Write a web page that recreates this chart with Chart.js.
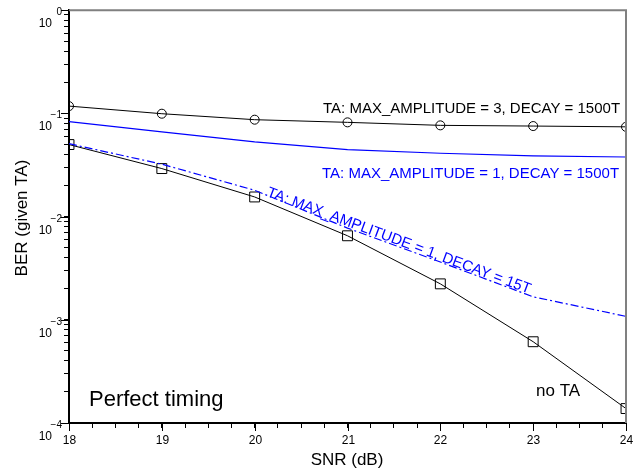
<!DOCTYPE html>
<html>
<head>
<meta charset="utf-8">
<script src="https://cdn.jsdelivr.net/npm/chart.js@4.4.0/dist/chart.umd.min.js"></script>
<style>
    body { margin: 0; background: #fff; }
    #wrap { width: 641px; height: 469px; }
</style>
</head>
<body>
<div id="wrap"><canvas id="berChart" width="641" height="469"></canvas></div>
<script>
Chart.defaults.font.family = 'Liberation Sans';

// SNR (dB) on x, BER on a log y axis
const snr = [18, 19, 20, 21, 22, 23, 24];
const berAmp3Decay1500 = [0.1177, 0.0993, 0.0869, 0.0819, 0.0766, 0.0754, 0.0741];
const berAmp1Decay1500 = [0.0832, 0.0663, 0.0530, 0.0446, 0.0411, 0.0388, 0.0378];
const berAmp1Decay15 = [0.0509, 0.0322, 0.0180, 0.00774, 0.00363, 0.00167, 0.00108];
const berNoTA = [0.0499, 0.0292, 0.0155, 0.00652, 0.00223, 0.000613, 0.000138];

const xTickLabels = ['18', '19', '20', '21', '22', '23', '24'];
const yDecades = [-4, -3, -2, -1, 0];
const yMinorSteps = [1, 2, 3, 4, 5, 6, 7, 8, 9];

const labelAmp3 = 'TA: MAX_AMPLITUDE = 3, DECAY = 1500T';
const labelAmp1Slow = 'TA: MAX_AMPLITUDE = 1, DECAY = 1500T';
const labelAmp1Fast = 'TA: MAX_AMPLITUDE = 1, DECAY = 15T';
const labelNoTA = 'no TA';
const labelPanel = 'Perfect timing';

function toPoints(values) {
    return snr.map((s, i) => ({ x: s, y: values[i] }));
}

const BLUE = '#0000ff';

const decorPlugin = {
    id: 'decor',
    afterDraw(chart) {
        const { ctx, chartArea: a, scales: { x, y } } = chart;
        ctx.save();

        // grey frame on top and right
        ctx.strokeStyle = '#808080';
        ctx.lineWidth = 2;
        ctx.beginPath();
        ctx.moveTo(a.left, a.top);
        ctx.lineTo(a.right, a.top);
        ctx.lineTo(a.right, a.bottom);
        ctx.stroke();

        // x major ticks + labels
        ctx.strokeStyle = '#000';
        ctx.fillStyle = '#000';
        ctx.lineWidth = 1;
        ctx.font = '12px "Liberation Sans"';
        ctx.textAlign = 'center';
        ctx.textBaseline = 'alphabetic';
        xTickLabels.forEach((t, i) => {
            const px = Math.round(x.getPixelForValue(snr[i])) + 0.5;
            ctx.beginPath();
            ctx.moveTo(px, a.bottom);
            ctx.lineTo(px, a.bottom + 8);
            ctx.stroke();
            ctx.fillText(t, px, 444);
        });

        // y decade ticks + 10^n labels
        yDecades.forEach(e => {
            const py = Math.round(y.getPixelForValue(Math.pow(10, e))) + 0.5;
            ctx.beginPath();
            ctx.moveTo(a.left - 8, py);
            ctx.lineTo(a.left, py);
            ctx.stroke();
            ctx.font = '12px "Liberation Sans"';
            ctx.textAlign = 'right';
            ctx.fillText('10', 52, py + 16.5);
            ctx.font = '10px "Liberation Sans"';
            ctx.fillText(e < 0 ? '\u2212' + (-e) : String(e), 62, py + 4);
        });

        // axis titles
        ctx.font = '17px "Liberation Sans"';
        ctx.textAlign = 'center';
        ctx.fillText('SNR (dB)', 347, 465);
        ctx.save();
        ctx.translate(27, 218);
        ctx.rotate(-Math.PI / 2);
        ctx.fillText('BER (given TA)', 0, 0);
        ctx.restore();

        // curve annotations
        ctx.textAlign = 'left';
        ctx.font = '15px "Liberation Sans"';
        ctx.fillStyle = '#000';
        ctx.fillText(labelAmp3, 323, 112.5);
        ctx.fillStyle = BLUE;
        ctx.fillText(labelAmp1Slow, 322, 178);
        ctx.save();
        ctx.translate(266, 196);
        ctx.rotate(20.4 * Math.PI / 180);
        ctx.fillText(labelAmp1Fast, 0, 0);
        ctx.restore();

        ctx.fillStyle = '#000';
        ctx.font = '17px "Liberation Sans"';
        ctx.fillText(labelNoTA, 536, 396);
        ctx.font = '22px "Liberation Sans"';
        ctx.fillText(labelPanel, 89, 406);

        ctx.restore();
    }
};

new Chart(
    document.getElementById('berChart'),
    {
        type: 'line',
        data: {
            datasets: [
                {
                    label: labelAmp3,
                    data: toPoints(berAmp3Decay1500),
                    borderColor: '#000',
                    borderWidth: 1,
                    pointStyle: 'circle',
                    pointRadius: 4.5,
                    pointBorderColor: '#000',
                    pointBorderWidth: 1,
                    pointBackgroundColor: 'rgba(0,0,0,0)'
                },
                {
                    label: labelAmp1Slow,
                    data: toPoints(berAmp1Decay1500),
                    borderColor: BLUE,
                    borderWidth: 1.2,
                    pointRadius: 0
                },
                {
                    label: labelAmp1Fast,
                    data: toPoints(berAmp1Decay15),
                    borderColor: BLUE,
                    borderWidth: 1.2,
                    borderDash: [8, 3, 2, 3],
                    pointRadius: 0
                },
                {
                    label: labelNoTA,
                    data: toPoints(berNoTA),
                    borderColor: '#000',
                    borderWidth: 1,
                    pointStyle: 'rect',
                    pointRadius: 7,
                    pointBorderColor: '#000',
                    pointBorderWidth: 1,
                    pointBackgroundColor: 'rgba(0,0,0,0)'
                }
            ]
        },
        options: {
            responsive: false,
            animation: false,
            layout: { padding: { top: 9, right: 15, left: 0, bottom: 0 } },
            plugins: {
                legend: { display: false },
                tooltip: { enabled: false }
            },
            scales: {
                x: {
                    type: 'linear',
                    min: 18,
                    max: 24,
                    afterFit: scale => { scale.height = 46; },
                    ticks: { stepSize: 0.25, autoSkip: false, callback: () => '' },
                    grid: { drawOnChartArea: false, drawTicks: true, tickLength: 5, color: '#000', lineWidth: 1 },
                    border: { display: true, color: '#000', width: 2 }
                },
                y: {
                    type: 'logarithmic',
                    min: 1e-4,
                    max: 1,
                    afterFit: scale => { scale.width = 69; },
                    afterBuildTicks: scale => {
                        const ticks = [];
                        yDecades.forEach(e => {
                            if (e === 0) {
                                ticks.push({ value: 1 });
                                return;
                            }
                            yMinorSteps.forEach(m => ticks.push({ value: m * Math.pow(10, e) }));
                        });
                        scale.ticks = ticks;
                    },
                    ticks: { autoSkip: false, callback: () => '' },
                    grid: { drawOnChartArea: false, drawTicks: true, tickLength: 5, color: '#000', lineWidth: 1 },
                    border: { display: true, color: '#000', width: 2 }
                }
            }
        },
        plugins: [decorPlugin]
    }
);
</script>
</body>
</html>
